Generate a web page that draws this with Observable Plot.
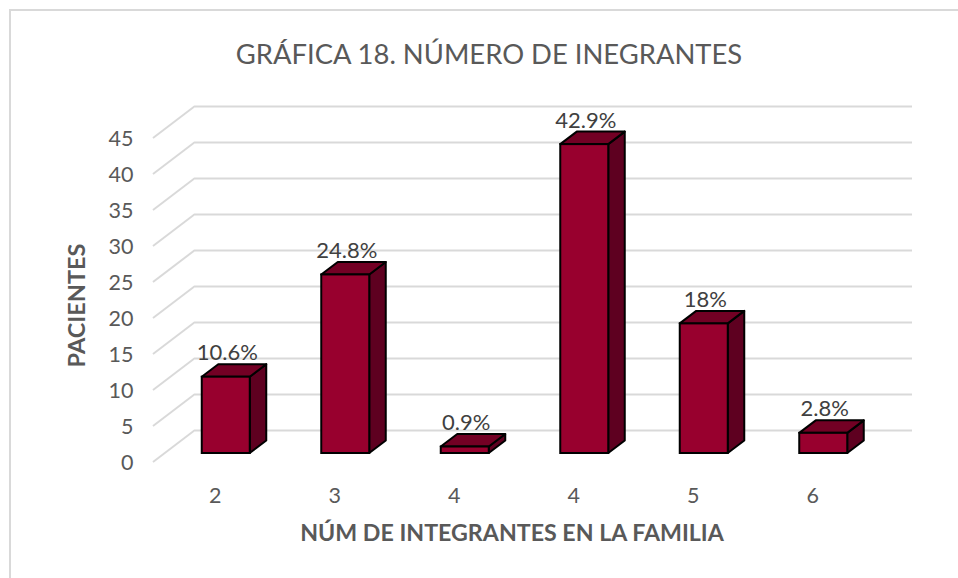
<!DOCTYPE html>
<html><head><meta charset="utf-8">
<script src="https://cdn.jsdelivr.net/npm/d3@7"></script>
<script src="https://cdn.jsdelivr.net/npm/@observablehq/plot@0.6"></script>
<style>
html,body{margin:0;padding:0;background:#fff}
#frame{position:absolute;left:9px;top:9px;width:949px;height:569px;box-sizing:border-box;border-top:2px solid #d9d9d9;border-left:2px solid #d9d9d9}
svg{position:absolute;left:0;top:0;overflow:visible}
</style></head><body><div id="frame"></div><div id="chart"></div>
<script>
const categories = ["2","3","4","4","5","6"];
const values = [10.6,24.8,0.9,42.9,18,2.8];
const labels = ["10.6%","24.8%","0.9%","42.9%","18%","2.8%"];
const yTicks = [0,5,10,15,20,25,30,35,40,45];
const title = "GRÁFICA 18. NÚMERO DE INEGRANTES";
const xTitle = "NÚM DE INTEGRANTES EN LA FAMILIA";
const yTitle = "PACIENTES";

const indices = categories.map((_,i)=>i);
const rows = indices.map(i=>({i,value:values[i],label:labels[i]}));
const font = "Lato, 'Open Sans', sans-serif";
const FRONT=[13,-9], DEPTH=[16.5,-12.5], WALL=[42,-32];
const INSET=35.75;

function diagonals(index, scales, vals, dim){
  const g = d3.create("svg:g").attr("stroke","#d9d9d9").attr("stroke-width",2);
  const x0 = dim.marginLeft;
  for(const t of yTicks){
    const y = scales.y(t);
    g.append("line").attr("x1",x0).attr("y1",y).attr("x2",x0+WALL[0]).attr("y2",y+WALL[1]);
  }
  return g.node();
}
function faces(index, scales){
  const g = d3.create("svg:g").attr("stroke","#000").attr("stroke-width",2).attr("stroke-linejoin","round");
  const bw = scales.x(1)-scales.x(0);
  for(const r of rows){
    const a = scales.x(r.i)+INSET+FRONT[0], b = scales.x(r.i)+bw-INSET+FRONT[0];
    const t = scales.y(r.value)+FRONT[1], u = scales.y(0)+FRONT[1];
    const [dx,dy]=DEPTH;
    g.append("path").attr("fill","#5e0020").attr("d",`M${b},${t}L${b+dx},${t+dy}L${b+dx},${u+dy}L${b},${u}Z`);
    g.append("path").attr("fill","#730024").attr("d",`M${a},${t}L${a+dx},${t+dy}L${b+dx},${t+dy}L${b},${t}Z`);
  }
  return g.node();
}

const plot = Plot.plot({
  width:958,height:578,
  marginLeft:153,marginRight:88,marginTop:138,marginBottom:116,
  style:{background:"transparent",fontFamily:font},
  x:{type:"band",domain:indices,padding:0,round:false,label:null},
  y:{domain:[0,45],label:null},
  marks:[
    Plot.ruleY(yTicks,{stroke:"#d9d9d9",strokeWidth:2,dx:WALL[0],dy:WALL[1]}),
    diagonals,
    faces,
    Plot.barY(rows,{x:"i",y:"value",fill:"#98002e",stroke:"#000",strokeWidth:2,insetLeft:INSET,insetRight:INSET,dx:FRONT[0],dy:FRONT[1]}),
    Plot.text(rows,{x:"i",y:"value",text:"label",dx:FRONT[0]+1,dy:FRONT[1]-24,fontSize:22,fill:"#404040",textAnchor:"middle"}),
    Plot.axisY({ticks:yTicks,tickSize:0,tickPadding:20,fontSize:21.5,fill:"#595959",dy:0.5,label:null}),
    Plot.axisX({tickSize:0,tickFormat:i=>categories[i],fontSize:21.5,fill:"#595959",tickPadding:25,dx:2,label:null}),
    Plot.text([title],{frameAnchor:"top",textAnchor:"middle",dy:-94,dx:-23,fontSize:27.4,fill:"#595959"}),
    Plot.text([xTitle],{frameAnchor:"bottom",textAnchor:"middle",dy:78,dx:0,fontSize:23.2,fontWeight:"bold",fill:"#595959"}),
    Plot.text([yTitle],{frameAnchor:"left",textAnchor:"middle",rotate:-90,dx:-76,dy:5,fontSize:23.5,fontWeight:"bold",fill:"#595959"})
  ]
});
document.getElementById("chart").append(plot);
</script></body></html>
